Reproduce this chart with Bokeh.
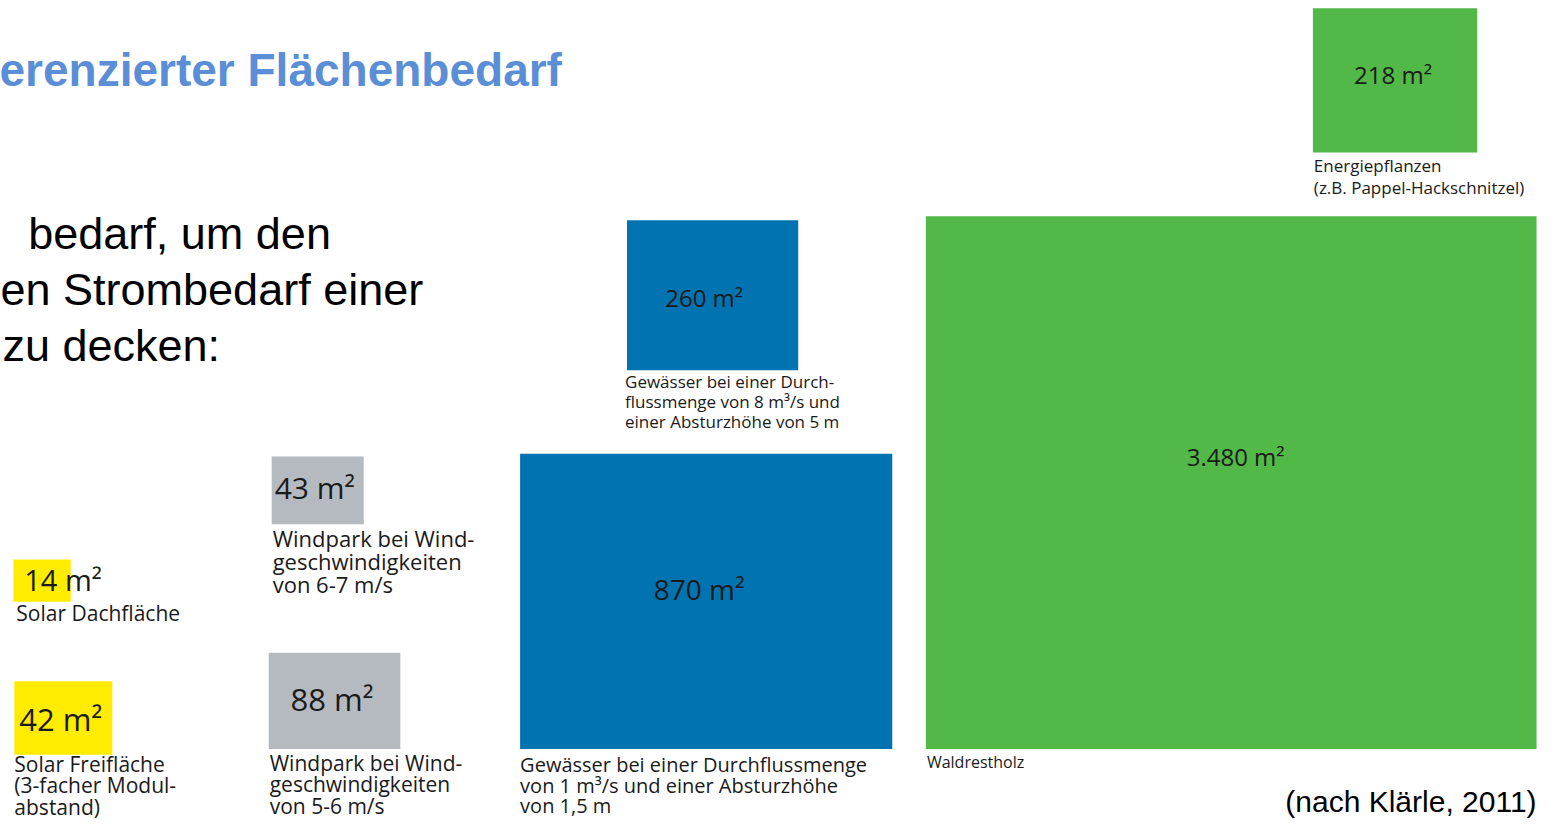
from bokeh.plotting import figure
from bokeh.models import Range1d, ColumnDataSource
from bokeh.embed import file_html
from bokeh.resources import INLINE
from bokeh.core.properties import value

# ---------------- data ----------------
categories = ["Solar Dachfläche", "Solar Freifläche", "Wind 6-7 m/s", "Wind 5-6 m/s",
              "Wasser 8 m³/s", "Wasser 1 m³/s", "Energiepflanzen", "Waldrestholz"]
areas_m2 = [14, 42, 43, 88, 260, 870, 218, 3480]
descriptions = [
    ["Solar Dachfläche"],
    ["Solar Freifläche", "(3-facher Modul-", "abstand)"],
    ["Windpark bei Wind-", "geschwindigkeiten", "von 6-7 m/s"],
    ["Windpark bei Wind-", "geschwindigkeiten", "von 5-6 m/s"],
    ["Gewässer bei einer Durch-", "flussmenge von 8 m³/s und", "einer Absturzhöhe von 5 m"],
    ["Gewässer bei einer Durchflussmenge", "von 1 m³/s und einer Absturzhöhe", "von 1,5 m"],
    ["Energiepflanzen", "(z.B. Pappel-Hackschnitzel)"],
    ["Waldrestholz"],
]
title_fragment = "erenzierter Flächenbedarf"
intro_lines = ["bedarf, um den", "en Strombedarf einer", "zu decken:"]
source_note = "(nach Klärle, 2011)"

# ---------------- layout (pixel positions, styles) ----------------
box_left = [13, 14, 274, 271, 633, 525, 1326, 935]
box_right = [71, 113, 367, 404, 806, 901, 1492, 1552]
box_top = [570, 694, 465, 665, 224, 462, 8, 220]
box_bottom = [613, 769, 534, 763, 377, 763, 155, 763]
box_color = ["#FFEC00", "#FFEC00", "#B5BAC0", "#B5BAC0",
             "#0073B0", "#0073B0", "#52B848", "#52B848"]
val_x = [24, 19, 277, 293, 711, 706, 1407, 1248]
val_y = [590, 733, 496, 712, 303, 600, 75, 465]
val_align = ["left", "left", "left", "left", "center", "center", "center", "center"]
val_size = ["29px", "31px", "30px", "31px", "24px", "28px", "24px", "24px"]
desc_x = [16, 14, 275, 272, 631, 525, 1327, 936]
desc_y0 = [624, 778, 548, 777, 388, 779, 168, 776]
desc_step = [0, 22, 23.5, 22, 20.5, 21, 23, 0]
desc_size = ["21px", "21px", "22px", "21px", "17px", "20px", "17px", "16px"]

W, H = 1542, 821
p = figure(width=W, height=H, output_backend="svg", toolbar_location=None,
           x_range=Range1d(0, 1558), y_range=Range1d(837, 0),
           min_border=0, min_border_left=0, min_border_right=0,
           min_border_top=0, min_border_bottom=0)
p.axis.visible = False
p.grid.visible = False
p.outline_line_color = None
p.background_fill_color = "white"
p.border_fill_color = "white"

# boxes
p.quad(source=ColumnDataSource(dict(l=box_left, r=box_right, t=box_top, b=box_bottom, c=box_color)),
       left="l", right="r", top="t", bottom="b", fill_color="c", line_color=None)


def fmt(v):
    return f"{v:,}".replace(",", ".") + " m²"


p.text(source=ColumnDataSource(dict(x=val_x, y=val_y, t=[fmt(v) for v in areas_m2],
                                    a=val_align, fs=val_size)),
       x="x", y="y", text="t", text_align="a", text_baseline="middle",
       text_font_size="fs", text_font=value("Open Sans"), text_color="#1a1a1a")

# descriptions
dx, dy, dt, dfs = [], [], [], []
for i, lines in enumerate(descriptions):
    for j, ln in enumerate(lines):
        dx.append(desc_x[i])
        dy.append(desc_y0[i] + j * desc_step[i])
        dt.append(ln)
        dfs.append(desc_size[i])
p.text(source=ColumnDataSource(dict(x=dx, y=dy, t=dt, fs=dfs)),
       x="x", y="y", text="t", text_align="left", text_baseline="middle",
       text_font_size="fs", text_font=value("Open Sans"), text_color="#1a1a1a")

# title fragment
p.text(x=[-1], y=[71], text=[title_fragment], text_font=value("Liberation Sans"),
       text_font_style="bold", text_font_size="46px", text_color="#5A8ED6",
       text_baseline="middle")

# intro text
p.text(x=[28, 0, 2], y=[238, 295, 352], text=intro_lines, text_font=value("Liberation Sans"),
       text_font_size="45px", text_color="black", text_baseline="middle")

# source note
p.text(x=[1552], y=[817], text=[source_note], text_font=value("Liberation Sans"),
       text_font_size="30px", text_color="black", text_align="right",
       text_baseline="middle")

open("out.html", "w").write(file_html(p, INLINE))
